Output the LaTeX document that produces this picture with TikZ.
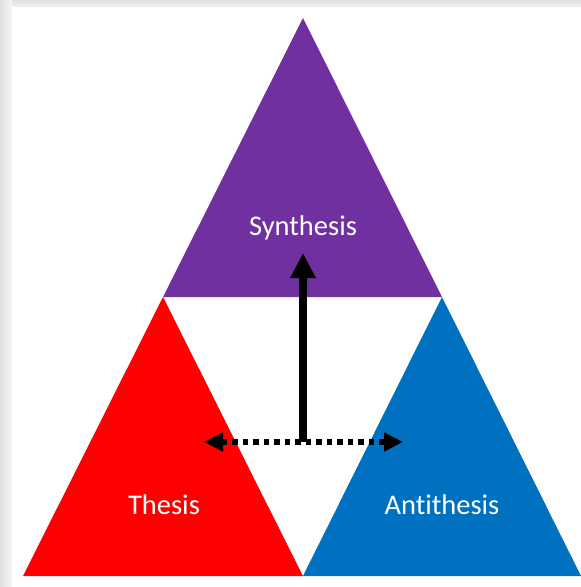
\documentclass[tikz,border=0pt]{standalone}
\usepackage{fontspec}
\setmainfont{Carlito}[Ligatures=NoCommon]
\usetikzlibrary{arrows.meta}
\definecolor{synpurple}{HTML}{7030A0}
\definecolor{thred}{HTML}{FF0000}
\definecolor{antblue}{HTML}{0070C0}
\tikzset{
  lbl/.style={text=white, font=\fontsize{28.5}{32}\selectfont, inner sep=0pt},
  mainarrow/.style={line width=8pt, -{Triangle[length=25pt,width=24pt]}},
  dotarrow/.style={line width=5.5pt, dash pattern=on 5.5pt off 5pt, {Triangle[length=19pt,width=18pt]}-{Triangle[length=19pt,width=18pt]}},
}
\begin{document}
\begin{tikzpicture}[x=1pt,y=-1pt]
\useasboundingbox (0,0) rectangle (581,587);
% background with soft shadow at top and left
\fill[black!8] (0,0) rectangle (581,587);
\shade[top color=black!12, bottom color=black!5] (0,0) rectangle (581,7);
\shade[left color=black!12, right color=black!4] (0,0) rectangle (12,587);
\fill[white] (12,7) rectangle (581,587);
% triangles
\fill[synpurple] (303,18) -- (442,297) -- (163,297) -- cycle;
\fill[thred] (163,297) -- (303,576) -- (23,576) -- cycle;
\fill[antblue] (442,297) -- (581,576) -- (303,576) -- cycle;
% labels
\node[lbl] (syn) at (303,228) {Synthesis};
\node[lbl] (the) at (164,505) {Thesis};
\node[lbl] (ant) at (442,505) {Antithesis};
% arrows
\coordinate (c) at (303,442);
\coordinate (top) at (303,253);
\coordinate (l) at (204,442);
\coordinate (r) at (403,442);
\draw[dotarrow] (l) -- (r);
\draw[mainarrow] (c) -- (top);
\end{tikzpicture}
\end{document}
